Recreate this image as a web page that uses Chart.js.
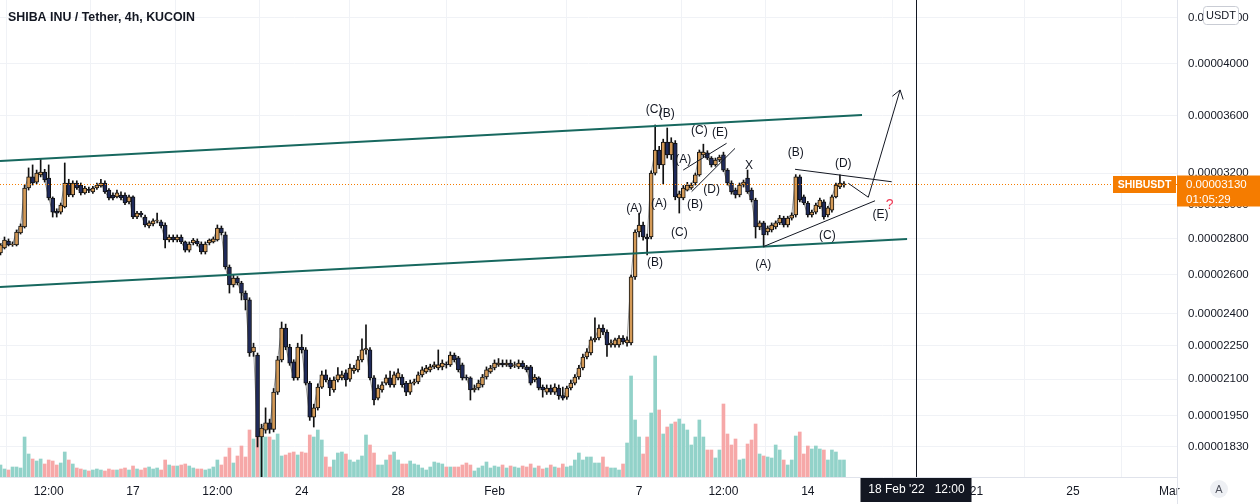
<!DOCTYPE html>
<html>
<head>
<meta charset="utf-8">
<script src="https://cdn.jsdelivr.net/npm/chart.js@4.4.0/dist/chart.umd.min.js"></script>
<style>
  html, body { margin: 0; padding: 0; background: #fff; }
</style>
</head>
<body>
<canvas id="chart" width="1260" height="504"></canvas>
<script>
// x axis unit: days counted from 17 Jan 2022 00:00, candles every 4 hours
const FIRST_CANDLE = -5.5;            // 11 Jan 12:00
const CANDLE_DAYS = 4 / 24;
const X_MIN = -5.52, X_MAX = 43.32;

// prices in units of 0.00000001 USDT
const open = [
  2718, 2746, 2785, 2765, 2763, 2831, 2866, 3104, 3175, 3142,
  3188, 3207, 3168, 3041, 2960, 2955, 2986, 3136, 3060, 3136,
  3123, 3073, 3095, 3079, 3104, 3117, 3136, 3091, 3060, 3048,
  3060, 3060, 3017, 3048, 2925, 2949, 2925, 2872, 2884, 2905,
  2896, 2878, 2791, 2808, 2791, 2808, 2780, 2734, 2774, 2785,
  2768, 2723, 2774, 2780, 2791, 2860, 2820, 2641, 2546, 2582,
  2556, 2504, 2469, 2220, 2206, 1866, 1892, 1920, 1895, 2045,
  2184, 2331, 2242, 2175, 2105, 2242, 2229, 2083, 1943, 1980,
  2066, 2118, 2096, 2054, 2096, 2105, 2127, 2100, 2135, 2140,
  2184, 2229, 2229, 2105, 2020, 2054, 2083, 2105, 2075, 2105,
  2109, 2083, 2045, 2083, 2088, 2118, 2131, 2140, 2153, 2148,
  2153, 2165, 2162, 2206, 2193, 2162, 2109, 2105, 2054, 2062,
  2075, 2109, 2131, 2148, 2162, 2170, 2162, 2170, 2160, 2153,
  2170, 2153, 2153, 2096, 2105, 2066, 2045, 2062, 2045, 2062,
  2030, 2024, 2062, 2083, 2109, 2148, 2197, 2215, 2275, 2284,
  2331, 2312, 2252, 2252, 2252, 2284, 2261, 2261, 2588, 2837,
  2878, 2808, 2808, 3200, 3355, 3254, 3410, 3321, 3400, 3041,
  3041, 3091, 3104, 3136, 3188, 3321, 3335, 3300, 3254, 3287,
  3321, 3220, 3136, 3091, 3060, 3123, 3168, 3091, 3029, 2866,
  2890, 2837, 2849, 2866, 2890, 2919, 2878, 2919, 2937, 3175,
  3048, 3010, 2937, 2955, 2986, 3017, 2937, 2967, 3048, 3111,
  3123
];
const high = [
  2770, 2808, 2797, 2780, 2849, 2884, 3123, 3234, 3254, 3220,
  3292, 3225, 3254, 3048, 2975, 3010, 3267, 3160, 3150, 3150,
  3136, 3115, 3110, 3115, 3136, 3160, 3150, 3100, 3073, 3091,
  3079, 3073, 3060, 3055, 2960, 2960, 2937, 2902, 2915, 2949,
  2907, 2890, 2820, 2820, 2820, 2820, 2785, 2780, 2800, 2797,
  2780, 2780, 2797, 2808, 2878, 2872, 2837, 2652, 2598, 2590,
  2565, 2515, 2480, 2260, 2215, 1915, 1980, 1935, 2060, 2200,
  2360, 2350, 2255, 2185, 2260, 2300, 2240, 2090, 1995, 2080,
  2135, 2140, 2105, 2110, 2150, 2135, 2140, 2165, 2160, 2200,
  2280, 2346, 2240, 2115, 2075, 2088, 2118, 2135, 2131, 2145,
  2120, 2090, 2096, 2100, 2131, 2153, 2160, 2165, 2175, 2229,
  2184, 2175, 2220, 2215, 2200, 2170, 2118, 2110, 2075, 2096,
  2120, 2153, 2160, 2184, 2190, 2184, 2184, 2184, 2175, 2184,
  2180, 2160, 2160, 2120, 2110, 2075, 2075, 2075, 2080, 2075,
  2066, 2070, 2096, 2120, 2160, 2210, 2235, 2290, 2380, 2346,
  2346, 2322, 2275, 2284, 2295, 2295, 2290, 2598, 2849, 2949,
  2895, 2825, 3215, 3531, 3380, 3430, 3509, 3440, 3420, 3085,
  3120, 3140, 3136, 3200, 3355, 3395, 3350, 3310, 3300, 3320,
  3340, 3230, 3150, 3104, 3136, 3155, 3220, 3104, 3040, 2902,
  2900, 2872, 2890, 2902, 2935, 2930, 2930, 2950, 3190, 3188,
  3060, 3020, 2967, 3010, 3040, 3030, 2990, 3060, 3136, 3188,
  3145
];
const low = [
  2707, 2740, 2757, 2755, 2757, 2825, 2860, 3091, 3123, 3130,
  3175, 3142, 3029, 2925, 2925, 2943, 2980, 3050, 3048, 3095,
  3060, 3065, 3075, 3070, 3095, 3110, 3070, 3030, 3030, 3041,
  3030, 3000, 3005, 2915, 2915, 2925, 2866, 2860, 2872, 2890,
  2860, 2746, 2780, 2780, 2780, 2770, 2723, 2723, 2763, 2757,
  2712, 2712, 2763, 2774, 2785, 2820, 2630, 2504, 2535, 2546,
  2469, 2419, 2200, 2200, 1828, 1700, 1880, 1880, 1885, 2035,
  2175, 2230, 2160, 2095, 2096, 2215, 2075, 1930, 1904, 1971,
  2060, 2088, 2030, 2045, 2088, 2096, 2070, 2090, 2125, 2131,
  2175, 2210, 2096, 1992, 2012, 2045, 2075, 2066, 2066, 2096,
  2066, 2030, 2035, 2075, 2080, 2109, 2125, 2131, 2145, 2140,
  2140, 2148, 2155, 2175, 2131, 2096, 2096, 2012, 2045, 2054,
  2066, 2100, 2125, 2140, 2155, 2153, 2155, 2145, 2150, 2145,
  2145, 2131, 2075, 2088, 2054, 2024, 2035, 2035, 2035, 2015,
  2012, 2015, 2054, 2075, 2100, 2140, 2188, 2206, 2266, 2275,
  2300, 2200, 2242, 2242, 2242, 2255, 2246, 2252, 2575, 2808,
  2790, 2707, 2797, 3188, 3230, 3130, 3300, 3290, 3030, 2949,
  3030, 3085, 3095, 3123, 3180, 3307, 3290, 3240, 3245, 3275,
  3210, 3123, 3065, 3041, 3048, 3110, 3070, 3017, 2802, 2850,
  2751, 2820, 2837, 2855, 2880, 2866, 2866, 2907, 2925, 3017,
  3000, 2925, 2925, 2943, 2975, 2913, 2925, 2955, 3041, 3100,
  3110
];
const close = [
  2763, 2791, 2763, 2768, 2837, 2872, 3104, 3175, 3136, 3200,
  3207, 3155, 3041, 2955, 2949, 2998, 3136, 3060, 3136, 3104,
  3073, 3104, 3088, 3104, 3123, 3136, 3079, 3041, 3041, 3073,
  3041, 3010, 3048, 2925, 2949, 2937, 2878, 2890, 2902, 2907,
  2872, 2791, 2808, 2791, 2808, 2780, 2734, 2768, 2791, 2768,
  2723, 2768, 2791, 2797, 2860, 2831, 2641, 2546, 2582, 2556,
  2504, 2469, 2215, 2242, 1866, 1900, 1920, 1895, 2045, 2184,
  2331, 2242, 2170, 2105, 2242, 2229, 2083, 1943, 1980, 2066,
  2118, 2096, 2062, 2096, 2118, 2118, 2096, 2148, 2148, 2184,
  2229, 2235, 2105, 2012, 2062, 2075, 2105, 2075, 2118, 2127,
  2075, 2045, 2083, 2088, 2118, 2140, 2148, 2153, 2162, 2162,
  2170, 2162, 2206, 2184, 2140, 2105, 2105, 2054, 2062, 2083,
  2109, 2140, 2148, 2170, 2170, 2162, 2170, 2153, 2162, 2170,
  2153, 2140, 2083, 2109, 2062, 2054, 2062, 2045, 2066, 2030,
  2020, 2062, 2083, 2109, 2148, 2197, 2220, 2275, 2284, 2331,
  2312, 2252, 2261, 2275, 2284, 2266, 2275, 2588, 2837, 2878,
  2808, 2797, 3200, 3355, 3254, 3410, 3321, 3410, 3048, 3067,
  3104, 3123, 3123, 3188, 3341, 3341, 3300, 3254, 3287, 3307,
  3220, 3136, 3079, 3060, 3123, 3142, 3079, 3029, 2866, 2890,
  2820, 2860, 2878, 2890, 2919, 2878, 2919, 2937, 3175, 3029,
  3010, 2937, 2955, 2998, 3029, 2925, 2980, 3048, 3123, 3136,
  3130
];
// volume, relative units (axis max 477)
const volume = [
  12, 8, 7, 10, 10, 9,
  40, 23, 18, 16, 18, 13, 17, 16, 12, 14, 25, 17, 13, 9, 8,
  7, 6, 7, 8, 7, 6, 8, 7, 7, 8, 9, 7, 11, 8, 7, 9, 10, 8, 9, 7,
  17, 12, 11, 11, 12, 13, 11, 9, 8, 8, 7, 8, 10, 17, 12, 20, 29, 14, 21, 31, 20,
  47, 38, 47, 40, 40, 40, 37, 43,
  21, 22, 24, 25, 22, 25, 24,
  42, 40, 47, 37, 20, 10, 17, 24, 25, 23, 17, 15, 17, 21, 42, 32, 24, 12, 12, 17,
  22, 25, 17, 13, 13, 16, 13, 12, 9, 7, 10, 15, 14, 13, 10, 10, 10, 10, 12, 14,
  12, 6, 9, 11, 15, 9, 11,
  10, 12, 9, 11, 10, 9, 11, 10, 13, 9, 11, 8, 9, 12, 10, 9, 13, 10, 11,
  17, 24, 17, 20, 20, 14, 14, 20, 10, 9, 9, 7, 13, 34,
  101, 57, 40, 23, 40, 64, 121, 67, 43, 50, 53, 55, 58, 53, 47, 32, 40, 57, 40, 27,
  27, 19, 27, 73, 43, 32, 38, 17, 18, 33, 37, 53, 23, 21, 20, 19, 32, 27, 17, 12,
  17, 41, 45, 23, 31, 28, 31, 28, 27, 17, 27, 25, 17, 17
];

const timeTicks = [-3.5, 0, 3.5, 7, 11, 15, 21, 24.5, 28, 35, 39, 43];
const timeLabels = ['12:00', '17', '12:00', '24', '28', 'Feb', '7', '12:00', '14', '21', '25', 'Mar'];
const priceTicks = [1830, 1950, 2100, 2250, 2400, 2600, 2800, 3000, 3200, 3600, 4000, 4400];
const Y_MIN = 1719, Y_MAX = 4559;

const LAST_PRICE = 3130;
const COUNTDOWN = '01:05:29';
const CROSS_DAY = 32.5;   // 18 Feb 12:00

// drawings: [day, price]
const channels = [
  [[-5.52, 3280], [30.25, 3604]],
  [[-5.52, 2535], [32.12, 2797]]
];
const waveLines = [
  [[27.47, 3225], [31.48, 3144]],
  [[26.15, 2753], [30.79, 3024]],
  [[22.83, 3220], [24.63, 3401]],
  [[23.18, 3081], [24.98, 3366]]
];
const projection = [[29.68, 3134], [30.51, 3046], [31.83, 3793]];
const waveLabels = [
  ['(C)', 21.62, 3641], ['(B)', 22.15, 3611], ['(C)', 23.50, 3490], ['(E)', 24.36, 3478],
  ['(A)', 22.83, 3287], ['(D)', 24.01, 3091], ['(B)', 23.32, 3002], ['X', 25.56, 3247],
  ['(A)', 20.80, 2978], ['(A)', 21.83, 3008], ['(C)', 22.67, 2833], ['(B)', 21.66, 2667],
  ['(B)', 27.50, 3336], ['(D)', 29.47, 3260], ['(A)', 26.15, 2656], ['(C)', 28.81, 2814],
  ['(E)', 31.02, 2942]
];
const questionMark = [31.40, 2998];

const FONT = "'Liberation Sans', Arial, sans-serif";
const TEXT = '#131722';
const GRID = '#f0f2f6';
const BULL = '#d49a57';
const BEAR = '#1f2a5a';
const VOL_UP = '#92d2c9';
const VOL_DOWN = '#f6a8a8';
const TEAL = '#17685f';
const ORANGE = '#f57c00';

const candleX = open.map((_, i) => FIRST_CANDLE + i * CANDLE_DAYS);
const isUp = i => close[i] >= open[i];

const overlay = {
    id: 'overlay',
    afterDatasetsDraw(chart) {
        const { ctx, chartArea: a } = chart;
        const X = d => chart.scales.x.getPixelForValue(d);
        const Y = p => chart.scales.y.getPixelForValue(p);
        ctx.save();
        ctx.beginPath();
        ctx.rect(a.left, a.top, a.right - a.left, a.bottom - a.top);
        ctx.clip();

        // last price
        const ly = Math.round(Y(LAST_PRICE)) + 0.5;
        ctx.strokeStyle = ORANGE;
        ctx.lineWidth = 1;
        ctx.setLineDash([1, 2]);
        ctx.beginPath();
        ctx.moveTo(a.left, ly);
        ctx.lineTo(a.right, ly);
        ctx.stroke();
        ctx.setLineDash([]);

        const path = (pts, color, w) => {
            ctx.strokeStyle = color;
            ctx.lineWidth = w;
            ctx.beginPath();
            pts.forEach(([d, p], k) => k ? ctx.lineTo(X(d), Y(p)) : ctx.moveTo(X(d), Y(p)));
            ctx.stroke();
        };
        channels.forEach(c => path(c, TEAL, 2));
        waveLines.forEach(c => path(c, TEXT, 1));
        path(projection, TEXT, 1);

        // arrow head
        const [d1, p1] = projection[projection.length - 2];
        const [d2, p2] = projection[projection.length - 1];
        const ang = Math.atan2(Y(p2) - Y(p1), X(d2) - X(d1));
        ctx.beginPath();
        [-0.6, 0.6].forEach(s => {
            ctx.moveTo(X(d2), Y(p2));
            ctx.lineTo(X(d2) - 10 * Math.cos(ang + s), Y(p2) - 10 * Math.sin(ang + s));
        });
        ctx.stroke();

        ctx.font = '12px ' + FONT;
        ctx.fillStyle = TEXT;
        ctx.textAlign = 'center';
        ctx.textBaseline = 'middle';
        waveLabels.forEach(([t, d, p]) => ctx.fillText(t, X(d), Y(p)));
        ctx.fillStyle = '#ef3b57';
        ctx.font = '14px ' + FONT;
        ctx.fillText('?', X(questionMark[0]), Y(questionMark[1]));

        // crosshair
        const cx = Math.round(X(CROSS_DAY)) + 0.5;
        ctx.strokeStyle = TEXT;
        ctx.lineWidth = 1;
        ctx.beginPath();
        ctx.moveTo(cx, a.top);
        ctx.lineTo(cx, a.bottom);
        ctx.stroke();
        ctx.restore();
    },
    afterDraw(chart) {
        const { ctx, chartArea: a } = chart;
        const W = chart.width, H = chart.height;
        const ly = Math.round(chart.scales.y.getPixelForValue(LAST_PRICE)) + 0.5;
        const cx = Math.round(chart.scales.x.getPixelForValue(CROSS_DAY)) + 0.5;
        ctx.save();

        // title
        ctx.fillStyle = TEXT;
        ctx.font = 'bold 13px ' + FONT;
        ctx.textAlign = 'left';
        ctx.textBaseline = 'middle';
        ctx.fillText('SHIBA INU / Tether, 4h, KUCOIN', 8, 17, 187);

        // price axis label
        ctx.fillStyle = ORANGE;
        ctx.fillRect(a.right, ly - 9, W - a.right, 31);
        ctx.fillRect(a.right - 64, ly - 8.5, 63, 17);
        ctx.fillStyle = '#fff';
        ctx.font = '11.5px ' + FONT;
        ctx.fillText(`0.${String(LAST_PRICE).padStart(8, '0')}`, a.right + 9, ly);
        ctx.fillText(COUNTDOWN, a.right + 9, ly + 15);
        ctx.font = 'bold 10.5px ' + FONT;
        ctx.textAlign = 'center';
        ctx.fillText('SHIBUSDT', a.right - 32.5, ly + 0.5);

        // time crosshair label
        ctx.fillStyle = TEXT;
        ctx.fillRect(cx - 56, a.bottom + 1, 111, 24);
        ctx.fillStyle = '#fff';
        ctx.font = '12px ' + FONT;
        ctx.fillText("18 Feb '22   12:00", cx, a.bottom + 13);

        // axis corner line
        ctx.strokeStyle = '#e0e3eb';
        ctx.beginPath();
        ctx.moveTo(a.right + 0.5, a.bottom);
        ctx.lineTo(a.right + 0.5, H);
        ctx.stroke();

        // currency badge
        ctx.fillStyle = '#fff';
        ctx.strokeStyle = '#c9ccd4';
        ctx.beginPath();
        ctx.roundRect(1203.5, 6.5, 35, 18, 3);
        ctx.fill();
        ctx.stroke();
        ctx.fillStyle = TEXT;
        ctx.font = '11px ' + FONT;
        ctx.fillText('USDT', 1221, 16);

        // auto scale button
        ctx.fillStyle = '#eef0f4';
        ctx.beginPath();
        ctx.arc(1219, 489, 9, 0, Math.PI * 2);
        ctx.fill();
        ctx.fillStyle = '#50535e';
        ctx.fillText('A', 1219, 489.5);
        ctx.restore();
    }
};

new Chart(document.getElementById('chart'), {
    type: 'bar',
    data: {
        datasets: [
            {
                type: 'line',
                data: candleX.map((x, i) => ({ x, y: close[i] })),
                borderColor: 'rgba(70,70,70,0.55)',
                borderWidth: 1,
                pointRadius: 0,
                yAxisID: 'y',
                order: 3
            },
            {
                data: candleX.map((x, i) => ({ x, y: [low[i], high[i]] })),
                backgroundColor: '#111',
                barThickness: 1,
                grouped: false,
                yAxisID: 'y',
                order: 2
            },
            {
                data: candleX.map((x, i) => ({ x, y: [open[i], close[i]] })),
                backgroundColor: c => isUp(c.dataIndex) ? BULL : BEAR,
                borderColor: '#111',
                borderWidth: 1,
                borderSkipped: false,
                barThickness: 4,
                grouped: false,
                yAxisID: 'y',
                order: 1
            },
            {
                data: candleX.map((x, i) => ({ x, y: volume[i] })),
                backgroundColor: c => isUp(c.dataIndex) ? VOL_UP : VOL_DOWN,
                barThickness: 3,
                grouped: false,
                yAxisID: 'yv',
                order: 4
            }
        ]
    },
    options: {
        responsive: false,
        devicePixelRatio: 1,
        animation: false,
        events: [],
        layout: { padding: 0 },
        plugins: { legend: { display: false }, tooltip: { enabled: false } },
        scales: {
            x: {
                type: 'linear',
                min: X_MIN,
                max: X_MAX,
                offset: false,
                grid: { color: GRID, drawTicks: false },
                border: { color: '#e0e3eb' },
                ticks: {
                    autoSkip: false,
                    maxRotation: 0,
                    padding: 7,
                    color: TEXT,
                    font: { family: FONT, size: 12 },
                    callback: (v, i) => timeLabels[i]
                },
                afterBuildTicks: s => { s.ticks = timeTicks.map(v => ({ value: v })); },
                afterFit: s => {
                    s.height = 27;
                    s.paddingLeft = 0;
                    s.paddingRight = 0;
                }
            },
            y: {
                type: 'logarithmic',
                position: 'right',
                min: Y_MIN,
                max: Y_MAX,
                grid: { color: GRID, drawTicks: false },
                border: { color: '#e0e3eb' },
                ticks: {
                    padding: 11,
                    color: TEXT,
                    font: { family: FONT, size: 11.5 },
                    callback: v => (v / 1e8).toFixed(8)
                },
                afterBuildTicks: s => { s.ticks = priceTicks.map(v => ({ value: v })); },
                afterFit: s => {
                    s.width = 83;
                    s.paddingTop = 0;
                    s.paddingBottom = 0;
                }
            },
            yv: {
                type: 'linear',
                display: false,
                min: 0,
                max: 477
            }
        }
    },
    plugins: [overlay]
});
</script>
</body>
</html>
